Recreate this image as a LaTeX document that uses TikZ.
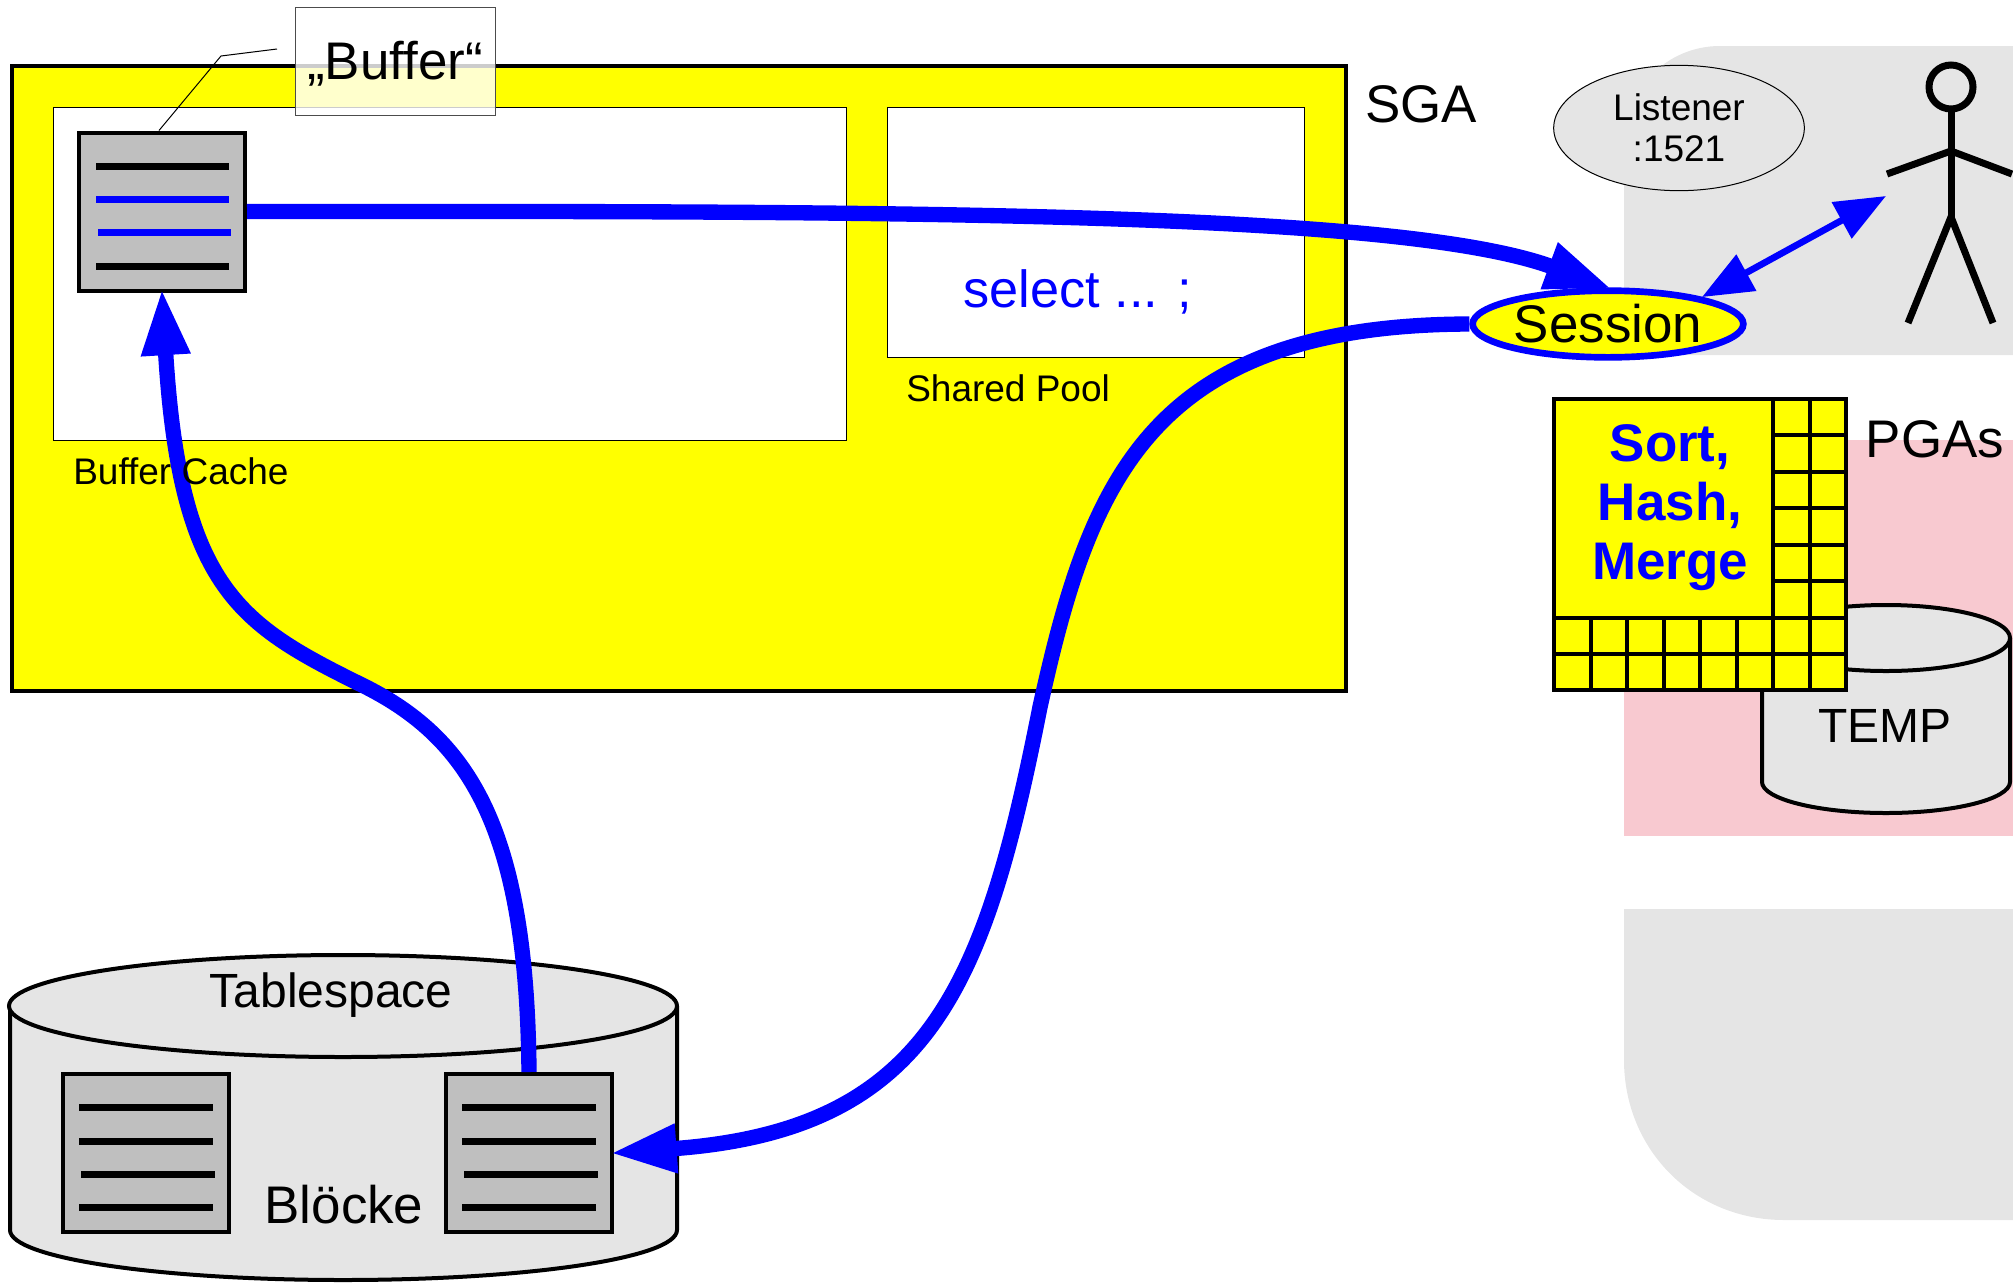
\documentclass[tikz,border=0pt]{standalone}
\usepackage{fontspec}
\setmainfont{Liberation Sans}
\usetikzlibrary{arrows.meta,shapes.geometric}
\definecolor{sgayellow}{rgb}{1,1,0}
\definecolor{softgray}{HTML}{E5E5E5}
\definecolor{softpink}{HTML}{F8C9D0}
\definecolor{pagegray}{HTML}{BFBFBF}
\tikzset{
    bigtext/.style={font=\fontsize{39.7pt}{44pt}\selectfont,inner sep=0pt},
    midtext/.style={font=\fontsize{36pt}{40pt}\selectfont,inner sep=0pt},
    smalltext/.style={font=\fontsize{27.75pt}{24pt}\selectfont,inner sep=0pt},
    pagebox/.style={draw,fill=pagegray,line width=3pt,minimum width=124.5pt,minimum height=118.5pt,inner sep=0pt},
    pageline/.style={line width=5.25pt},
    mainarrow/.style={draw=blue,line width=11.5pt,shorten >=-3pt,-{Triangle[length=50pt,width=34pt]}},
    cylbody/.style={draw,fill=softgray,line width=3pt},
    pgagrid/.style={draw,line width=3pt},
    figure/.style={draw,line width=5.25pt}
}
\begin{document}
\begin{tikzpicture}[x=0.75pt,y=0.75pt,yscale=-1,xscale=1]
    \useasboundingbox (0,0) rectangle (2013,1282);

    % background
    \fill[softgray] (2013,46) -- (1720,46) .. controls (1667,46) and (1624,89) .. (1624,142) -- (1624,355) -- (2013,355) -- cycle;
    \fill[softpink] (1624,440) rectangle (2013,836);
    \fill[softgray] (2013,909) -- (1624,909) -- (1624,1060) .. controls (1624,1150) and (1694,1220) .. (1784,1220) -- (2013,1220) -- cycle;

    % SGA
    \draw[fill=sgayellow,line width=2.6pt] (12,66) rectangle (1346,691);
    \draw[fill=white,line width=0.75pt] (53,107) rectangle (846,440);
    \draw[fill=white,line width=0.75pt] (887,107) rectangle (1304,357);
    \node[bigtext] (sga) at (1421,104) {SGA};
    \node[smalltext,anchor=west] (poollabel) at (906,388) {Shared Pool};
    \node[bigtext,text=blue,font=\fontsize{39.2pt}{44pt}\selectfont] (select) at (1078,292) {select ... ;};

    % buffer in the cache
    \node[pagebox] (buffer) at (162,211.5) {};
    \draw[pageline] (96,166) -- (229,166);
    \draw[pageline,blue] (96,199) -- (229,199);
    \draw[pageline,blue] (98,232) -- (231,232);
    \draw[pageline] (96,266) -- (229,266);

    % callout
    \coordinate (calloutend) at (277,49);
    \draw[line width=0.75pt] (buffer.north) ++(-3,0) -- (221,56) -- (calloutend);
    \node[draw=black!70,line width=0.75pt,fill=white,fill opacity=0.8,text opacity=1,font=\fontsize{39.7pt}{44pt}\selectfont,inner sep=0pt,minimum width=150pt,minimum height=81pt] (bufferlabel) at (395,61) {\raisebox{-14pt}[0pt][0pt]{„Buffer“}};

    % tablespace
    \draw[cylbody] (10,1006) -- (10,1230) .. controls (10,1258) and (159,1280) .. (343,1280) .. controls (527,1280) and (677,1258) .. (677,1230) -- (677,1006);
    \draw[cylbody] (343,1006) ellipse [x radius=334,y radius=51];
    \node[midtext] (tablespace) at (331,995) {Tablespace};
    \node[bigtext] (bloecke) at (344,1205) {Blöcke};
    \node[pagebox] (block1) at (146,1153) {};
    \node[pagebox] (block2) at (529,1153) {};
    \foreach \xs/\y in {79/1107,79/1141,81/1174,79/1207}
        \draw[pageline] (\xs,\y) -- ++(134,0);
    \foreach \xs/\y in {462/1107,462/1141,464/1174,462/1207}
        \draw[pageline] (\xs,\y) -- ++(134,0);

    % listener and session
    \node[draw,fill=softgray,ellipse,line width=0.75pt,minimum width=188pt,minimum height=94pt,inner sep=0pt,align=center,font=\fontsize{27.75pt}{30.6pt}\selectfont] (listener) at (1679,128) {Listener\\:1521};
    \node[draw=blue,fill=sgayellow,ellipse,line width=5pt,minimum width=203pt,minimum height=50pt,inner sep=0pt,bigtext] (session) at (1608,324) {Session};

    % user
    \draw[figure] (1951,87) ellipse [x radius=22,y radius=22];
    \draw[figure] (1951,110) -- (1951,217);
    \draw[figure] (1887,174) -- (1951,151) -- (2012,174);
    \draw[figure] (1908,323) -- (1951,217) -- (1993,323);
    \coordinate (userend) at (1886,196);
    \draw[draw=blue,line width=5pt,{Triangle[length=38pt,width=30pt]}-{Triangle[length=38pt,width=30pt]}] (session.16) -- (userend);

    % temp and PGA
    \draw[cylbody] (1762,638) -- (1762,782) .. controls (1762,799) and (1818,813) .. (1886,813) .. controls (1954,813) and (2010,799) .. (2010,782) -- (2010,638);
    \draw[cylbody] (1886,638) ellipse [x radius=124,y radius=33];
    \node[midtext] (temp) at (1885,726) {TEMP};
    \node[bigtext] (pgas) at (1935,439) {PGAs};
    \draw[pgagrid,fill=sgayellow] (1554,399) rectangle (1846,690);
    \foreach \i in {1,...,7}
        \draw[pgagrid] ({1554+\i*36.5},618) -- ({1554+\i*36.5},690);
    \foreach \i in {6,7}
        \draw[pgagrid] ({1554+\i*36.5},399) -- ({1554+\i*36.5},618);
    \foreach \i in {1,...,5}
        \draw[pgagrid] (1773,{399+\i*36.4}) -- (1846,{399+\i*36.4});
    \draw[pgagrid] (1554,618) -- (1846,618);
    \draw[pgagrid] (1554,654.4) -- (1846,654.4);
    \node[bigtext,text=blue,align=center,font=\fontsize{39.7pt}{44.3pt}\selectfont\bfseries] (sorthash) at (1670,508) {Sort,\\Hash,\\Merge};

    % the data flows
    \coordinate (crossing) at (366,687);
    \draw[mainarrow] (block2.north) .. controls (527,830) and (470,740) .. (crossing) .. controls (240,625) and (180,590) .. (buffer.south);
    \draw[mainarrow] (buffer.east) .. controls (900,211) and (1400,211) .. (session.north);
    \coordinate (sweep) at (1040,707);
    \draw[mainarrow] (session.west) .. controls (1150,325) and (1090,480) .. (sweep) .. controls (985,985) and (930,1130) .. (block2.east);
    \node[smalltext,anchor=west] (cachelabel) at (73,471) {Buffer Cache};
\end{tikzpicture}
\end{document}
